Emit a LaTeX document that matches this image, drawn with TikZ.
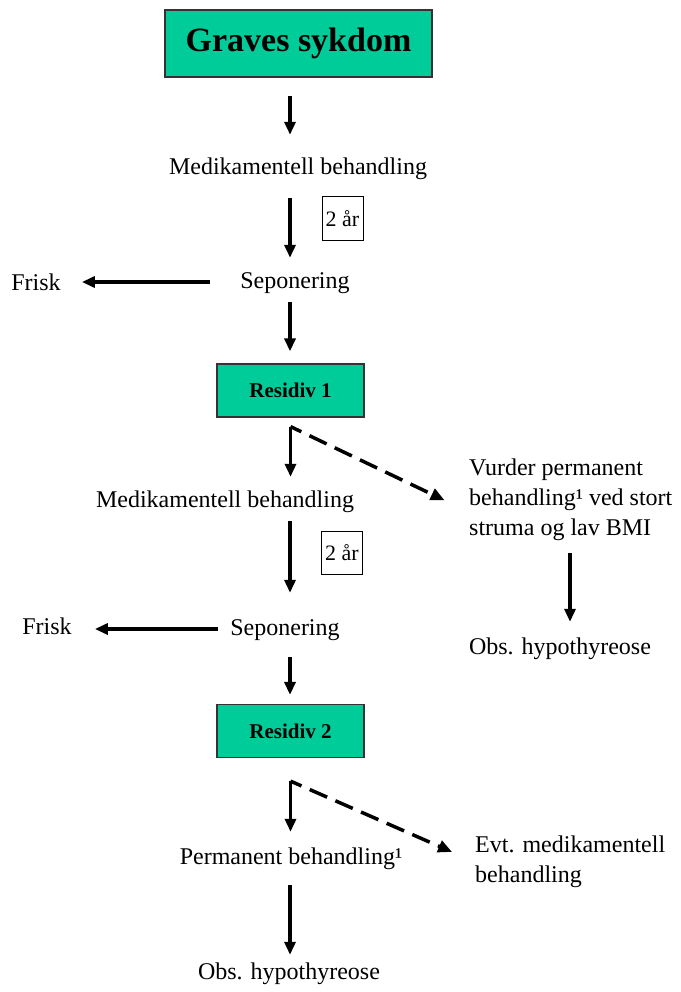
\documentclass[tikz,border=0pt]{standalone}
\usepackage{fontspec}
\setmainfont{Liberation Serif}
\usetikzlibrary{arrows.meta}
\definecolor{boxgreen}{HTML}{00CC99}
\begin{document}
\begin{tikzpicture}[
        x=1pt, y=-1pt,
        txt/.style={inner sep=0pt, font=\fontsize{24}{30}\selectfont, text height=17pt, text depth=5pt},
        para/.style={inner sep=0pt, font=\fontsize{24}{30}\selectfont, align=left},
        greenbox/.style={draw=black!80, fill=boxgreen, line width=1.2pt, inner sep=0pt},
        yearbox/.style={draw, line width=1pt, minimum width=41pt, minimum height=43pt, inner sep=0pt, font=\fontsize{22}{26}\selectfont},
        arr/.style={line width=3.5pt, -{Triangle[length=13pt,width=11pt]}},
        dasharr/.style={line width=3.5pt, dash pattern=on 19pt off 9pt, dash phase=7pt, -{Triangle[length=14pt,width=12pt]}}
    ]
    \useasboundingbox (0,0) rectangle (680,992);
    \coordinate (col) at (290,0);
    \coordinate (col2) at (570,0);

    % first round
    \node [greenbox, minimum width=267pt, minimum height=67pt, font=\fontsize{34}{40}\selectfont\bfseries] (graves) at (298.5,43.5) {Graves sykdom};
    \node [txt] (med1) at (298,169) {Medikamentell behandling};
    \node [yearbox] (yr1) at (342.5,218.5) {2 år};
    \node [txt] (sep1) at (295,282) {Seponering};
    \node [txt] (frisk1) at (36,284) {Frisk};
    \node [greenbox, minimum width=147pt, minimum height=53pt, font=\fontsize{21}{24}\selectfont\bfseries] (res1) at (290.5,390.5) {Residiv 1};

    % second round
    \node [txt] (med2) at (225,501) {Medikamentell behandling};
    \node [para, anchor=west] (vurder) at (469,500) {Vurder permanent\\behandling¹ ved stort\\struma og lav BMI};
    \node [yearbox] (yr2) at (342,552.5) {2 år};
    \node [txt] (sep2) at (285,629) {Seponering};
    \node [txt] (frisk2) at (47,628) {Frisk};
    \node [txt] (obs1) at (560,648) {Obs. hypothyreose};
    \node [greenbox, minimum width=147pt, minimum height=53pt, font=\fontsize{21}{24}\selectfont\bfseries] (res2) at (290.5,731) {Residiv 2};

    % third round
    \node [txt] (perm) at (291,858) {Permanent behandling¹};
    \node [para, anchor=west] (evt) at (475,862) {Evt. medikamentell\\behandling};
    \node [txt] (obs2) at (289,973) {Obs. hypothyreose};

    \draw [arr, shorten <=18pt, shorten >=23pt] (graves.south -| col) -- (med1.north -| col);
    \draw [arr, shorten <=18pt, shorten >=13pt] (med1.south -| col) -- (sep1.north -| col);
    \draw [arr, shorten <=9pt, shorten >=12pt] (sep1.south -| col) -- (res1.north -| col);
    \draw [arr, shorten <=30pt, shorten >=21pt] (sep1.west) -- (sep1.west -| frisk1.east);

    \draw [arr, shorten >=13pt] ([yshift=-9pt]res1.south) -- (res1.south |- med2.north);
    \draw [dasharr, shorten >=27pt] ([yshift=-9pt]res1.south) -- ([yshift=-12pt]vurder.west);
    \draw [arr, shorten <=9pt, shorten >=25pt] (med2.south -| col) -- (sep2.north -| col);
    \draw [arr, shorten <=12pt, shorten >=23pt] (sep2.west) -- (sep2.west -| frisk2.east);
    \draw [arr, shorten <=17pt, shorten >=9pt] (sep2.south -| col) -- (res2.north -| col);
    \draw [arr, shorten <=12pt, shorten >=15pt] (vurder.south -| col2) -- (obs1.north -| col2);

    \draw [arr, shorten >=15pt] ([yshift=-23pt]res2.south) -- (res2.south |- perm.north);
    \draw [dasharr, shorten >=25pt] ([yshift=-23pt]res2.south) -- (evt.west);
    \draw [arr, shorten <=16pt, shorten >=7pt] (perm.south -| col) -- (obs2.north -| col);
\end{tikzpicture}
\end{document}
